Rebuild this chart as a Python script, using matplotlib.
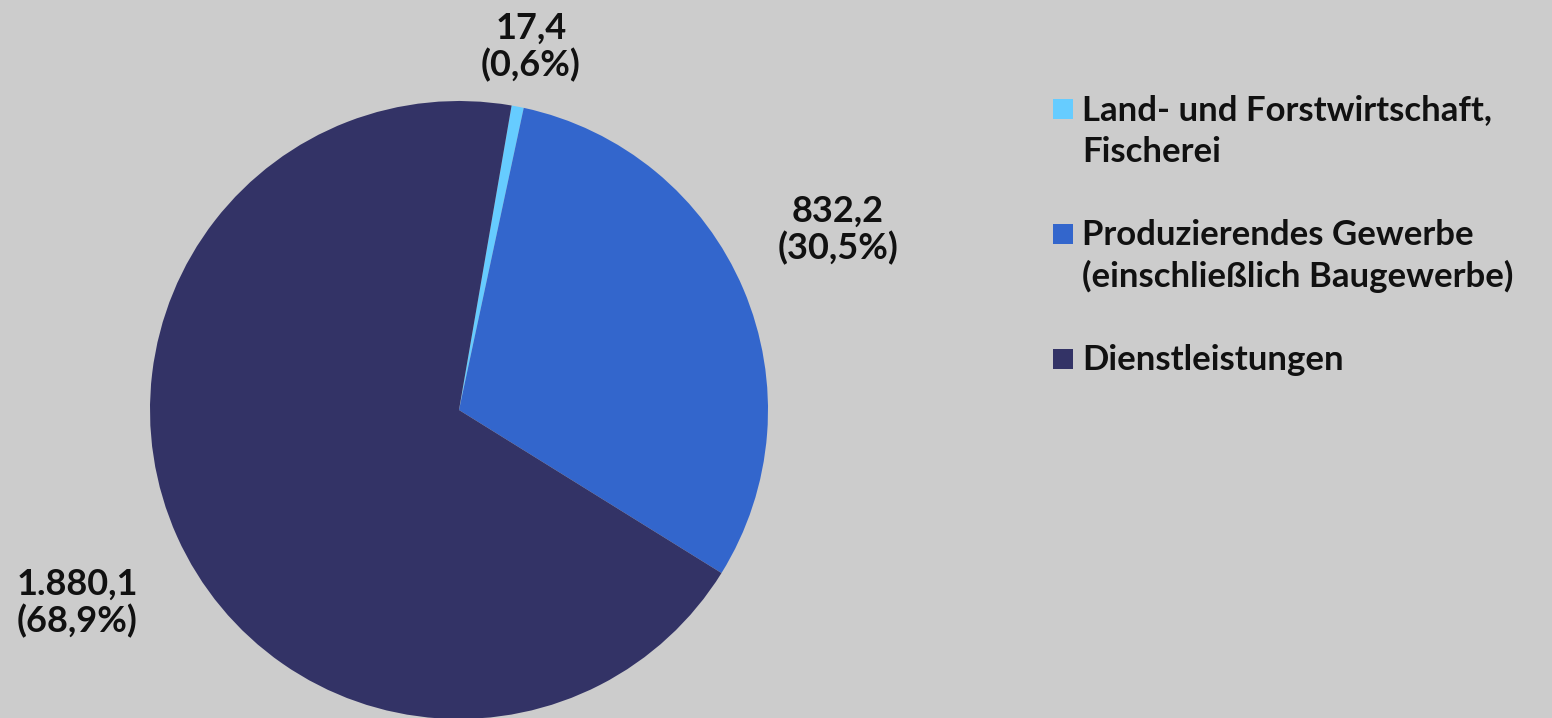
import matplotlib
matplotlib.use("Agg")
import matplotlib.pyplot as plt
from matplotlib.patches import Rectangle

categories = ["Land- und Forstwirtschaft,\nFischerei",
              "Produzierendes Gewerbe\n(einschließlich Baugewerbe)",
              "Dienstleistungen"]
values = [17.4, 832.2, 1880.1]
value_labels = ["17,4", "832,2", "1.880,1"]
pct_labels = ["0,6%", "30,5%", "68,9%"]
colors = ["#66ccff", "#3366cc", "#333366"]
bg = "#cccccc"

plt.rcParams['font.family'] = ['Lato', 'DejaVu Sans']
FS = 25
FW = 'bold'

W, H = 1552, 718
fig = plt.figure(figsize=(W / 100, H / 100), dpi=100, facecolor=bg)

cx, cy, r = 459, 410, 309
ax = fig.add_axes([(cx - r) / W, (H - cy - r) / H, 2 * r / W, 2 * r / H])
ax.set_facecolor(bg)
ax.pie(values, colors=colors, startangle=80.2, counterclock=False,
       radius=1.0, wedgeprops=dict(linewidth=0))
ax.set_xlim(-1, 1)
ax.set_ylim(-1, 1)
ax.set_aspect('equal')
ax.axis('off')

# label positions in pixels (centers)
label_pos = [(531, 47), (838, 230), (77, 603)]
for (px, py), v, p in zip(label_pos, value_labels, pct_labels):
    fig.text(px / W, 1 - py / H, f"{v}\n({p})", ha='center', va='center',
             multialignment='center', fontsize=26, fontweight=FW,
             color='#111111', linespacing=1.12)

# legend
sq = 20
x_sq = 1053
x_txt = 1082
baselines = [120, 245, 370]
line_gap = 42
for cat, col, b in zip(categories, colors, baselines):
    fig.patches.append(Rectangle(((x_sq) / W, 1 - (b - 1) / H), sq / W, sq / H,
                                 transform=fig.transFigure, facecolor=col,
                                 edgecolor='none'))
    for i, line in enumerate(cat.split("\n")):
        fig.text(x_txt / W, 1 - (b + i * line_gap) / H, line, ha='left',
                 va='baseline', fontsize=FS, fontweight=FW,
                 color='#111111')

fig.savefig("out.png", dpi=100, facecolor=bg)
